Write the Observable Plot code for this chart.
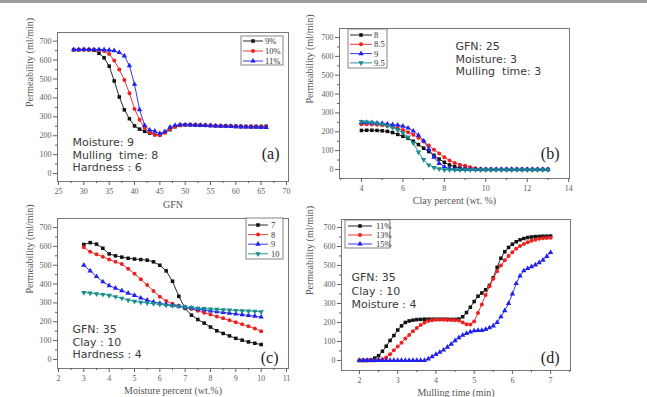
<!DOCTYPE html>
<html>
<head>
<meta charset="utf-8">
<script src="https://cdn.jsdelivr.net/npm/d3@7"></script>
<script src="https://cdn.jsdelivr.net/npm/@observablehq/plot@0.6"></script>
<style>
  body { margin: 0; background: #fff; }
  #fig { position: relative; width: 647px; height: 397px; overflow: hidden; background: #fff; }
  #topbar { position: absolute; left: 0; top: 0; width: 647px; height: 3px; background: #9c9c9c; }
  .panel { position: absolute; }
  .panel svg { overflow: visible; background: transparent; }
</style>
</head>
<body>
<div id="fig"><div id="topbar"></div></div>
<script>
// ---- (a) permeability vs GFN, by moisture ----
const gfn = [28,29,30,31,32,33,34,35,36,37,38,39,40,41,42,43,44,45,46,47,48,49,50,51,52,53,54,55,56,57,58,59,60,61,62,63,64,65,66];
const permA9  = [655,655,656,655,652,636,612,568,490,405,337,290,252,235,223,214,206,205,218,232,248,255,258,258,257,256,255,254,253,252,252,251,250,250,249,249,249,249,250];
const permA10 = [655,655,655,655,655,654,648,632,598,550,495,425,342,285,242,218,205,203,216,235,248,255,258,258,257,256,255,254,253,252,251,250,249,248,248,247,247,247,247];
const permA11 = [655,656,656,656,656,656,655,653,650,640,622,570,472,338,255,230,224,212,222,245,255,258,258,257,256,255,254,253,252,251,250,249,248,247,246,245,245,244,244];
const labelsA = ["9%", "10%", "11%"];

// ---- (b) permeability vs clay percent, by moisture ----
const clay = [4,4.25,4.5,4.75,5,5.25,5.5,5.75,6,6.25,6.5,6.75,7,7.25,7.5,7.75,8,8.25,8.5,8.75,9,9.25,9.5,9.75,10,10.25,10.5,10.75,11,11.25,11.5,11.75,12,12.25,12.5,12.75,13];
const permB8  = [207,208,208,207,205,202,196,186,176,165,150,132,113,95,75,55,38,24,14,8,4,2,1,0,0,0,0,0,0,0,0,0,0,0,0,0,0];
const permB85 = [240,240,239,237,234,230,225,218,209,198,184,168,148,127,105,85,65,47,34,25,19,12,6,2,0,0,0,0,0,0,0,0,0,0,0,0,0];
const permB9  = [250,249,248,246,244,241,238,235,230,220,204,182,152,108,65,32,14,5,1,0,0,0,0,0,0,0,0,0,0,0,0,0,0,0,0,0,0];
const permB95 = [254,252,249,245,240,232,222,210,195,172,140,92,52,24,10,3,-2,-2,-2,-2,-2,-2,-2,-2,-2,-2,-2,-2,-2,-2,-2,-2,-2,-2,-2,-2,-2];
const labelsB = ["8", "8.5", "9", "9.5"];

// ---- (c) permeability vs moisture percent, by clay ----
const moisture = [3,3.25,3.5,3.75,4,4.25,4.5,4.75,5,5.25,5.5,5.75,6,6.25,6.5,6.75,7,7.25,7.5,7.75,8,8.25,8.5,8.75,9,9.25,9.5,9.75,10];
const permC7  = [610,620,612,590,560,550,543,537,533,530,527,518,500,470,415,335,271,235,212,193,172,152,138,125,112,102,93,86,79];
const permC8  = [595,572,558,545,530,518,506,482,455,425,395,363,333,310,295,285,276,268,258,248,238,228,218,208,198,187,176,164,150];
const permC9  = [500,470,440,412,392,378,365,352,340,326,315,305,298,292,287,282,277,272,267,263,258,254,250,246,242,238,234,230,225];
const permC10 = [355,352,348,345,340,333,325,315,308,303,300,296,292,288,285,282,278,275,272,270,268,266,264,262,260,258,257,255,253];
const labelsC = ["7", "8", "9", "10"];

// ---- (d) permeability vs mulling time, by clay ----
const mulling = [2,2.1,2.2,2.3,2.4,2.5,2.6,2.7,2.8,2.9,3,3.1,3.2,3.3,3.4,3.5,3.6,3.7,3.8,3.9,4,4.1,4.2,4.3,4.4,4.5,4.6,4.7,4.8,4.9,5,5.1,5.2,5.3,5.4,5.5,5.6,5.7,5.8,5.9,6,6.1,6.2,6.3,6.4,6.5,6.6,6.7,6.8,6.9,7];
const permD11 = [0,0,0,2,12,25,48,75,105,131,160,182,200,208,212,215,216,217,217,217,217,217,217,217,216,216,218,230,252,280,310,338,355,372,395,435,490,538,572,595,612,625,635,642,647,650,652,653,654,654,655];
const permD13 = [0,0,0,0,0,2,6,16,32,53,73,93,115,134,154,171,186,198,207,211,214,214,214,213,213,212,210,200,191,189,205,250,295,345,390,430,470,500,527,550,570,588,602,613,622,630,636,640,643,645,646];
const permD15 = [0,0,0,0,0,0,0,0,0,0,0,0,0,0,0,0,0,0,8,20,32,43,55,70,86,104,120,133,142,150,156,158,158,163,172,182,200,230,262,300,350,405,445,472,484,494,503,515,528,548,568];
const labelsD = ["11%", "13%", "15%"];

const yTicks = [0,100,200,300,400,500,600,700];
const yMinorTicks = [50,150,250,350,450,550,650];
const yLabel = "Permeability (ml/min)";

const SERIF = "Liberation Serif, DejaVu Serif, serif";
const SANS = "DejaVu Sans, Liberation Sans, sans-serif";

// downward-pointing triangle, mirror of d3.symbolTriangle
const triangleDown = {
  draw(context, size) {
    const y = -Math.sqrt(size / (Math.sqrt(3) * 3));
    context.moveTo(0, -y * 2);
    context.lineTo(-Math.sqrt(3) * y, y);
    context.lineTo(Math.sqrt(3) * y, y);
    context.closePath();
  }
};

const look = {
  black: {color: "#111111", symbol: d3.symbolSquare},
  red:   {color: "#ee2020", symbol: d3.symbolCircle},
  blue:  {color: "#2020ee", symbol: d3.symbolTriangle},
  teal:  {color: "#168c8c", symbol: triangleDown}
};
const R = 2;
const plain = d => String(d);

function drawPanel(p) {
  const marks = [
    Plot.frame({stroke: "#777", strokeWidth: 1}),
    Plot.axisY({ticks: yMinorTicks, tickSize: 2, tickFormat: () => "", label: null}),
    Plot.axisY({ticks: yTicks, tickSize: 4, tickPadding: 2, tickFormat: plain, label: null,
      fontFamily: SERIF, fontSize: 8}),
    Plot.axisX({ticks: p.xMinor, tickSize: 2, tickFormat: () => "", label: null}),
    Plot.axisX({ticks: p.xTicks, tickSize: 4, tickPadding: 3, tickFormat: plain, label: null,
      fontFamily: SERIF, fontSize: 8}),
    Plot.text([p.xLabel], {text: d => d, frameAnchor: "bottom", dy: p.xLabelDy, lineAnchor: "middle",
      fontFamily: SERIF, fontSize: 10, fill: "#555"}),
    Plot.text([yLabel], {text: d => d, frameAnchor: "left", dx: -p.yLabelDx, rotate: -90, lineAnchor: "middle",
      fontFamily: SERIF, fontSize: 10, fill: "#555"}),
    Plot.text([p.note], {text: d => d, frameAnchor: "top-left", dx: p.noteDx, dy: p.noteDy, textAnchor: "start",
      lineAnchor: "top", lineHeight: p.noteLH, fontFamily: SANS, fontSize: 11, fill: "#3a3a3a"}),
    Plot.text([p.tag], {text: d => d, frameAnchor: "top-right", dx: p.tagDx, dy: p.tagDy, textAnchor: "end",
      lineAnchor: "middle", fontFamily: SERIF, fontSize: 16, fill: "#222"})
  ];
  p.series.forEach(s => {
    const rows = p.x.map((xv, i) => ({x: xv, y: s.values[i]}));
    marks.push(Plot.line(rows, {x: "x", y: "y", stroke: look[s.look].color, strokeWidth: 0.9}));
    marks.push(Plot.dot(rows, {x: "x", y: "y", r: R, symbol: look[s.look].symbol, fill: look[s.look].color, stroke: "none"}));
  });
  const chart = Plot.plot({
    width: p.w, height: p.h,
    marginTop: p.m[0], marginRight: p.m[1], marginBottom: p.m[2], marginLeft: p.m[3],
    x: {domain: p.xDomain},
    y: {domain: p.yDomain},
    style: {background: "transparent", overflow: "visible", fontFamily: SERIF, fontSize: "8px", color: "#606060"},
    marks
  });

  // legend box with line + marker swatches
  const lg = p.legend;
  const g = d3.select(chart).append("g").attr("text-anchor", "start");
  g.append("rect").attr("x", lg.x).attr("y", lg.y).attr("width", lg.w).attr("height", lg.h)
    .attr("fill", "white").attr("stroke", "#666").attr("stroke-width", 0.8);
  p.series.forEach((s, i) => {
    const cy = lg.y + lg.first + i * lg.gap;
    const c = look[s.look].color;
    g.append("line").attr("x1", lg.lx0).attr("x2", lg.lx1).attr("y1", cy).attr("y2", cy)
      .attr("stroke", c).attr("stroke-width", 0.9);
    g.append("path").attr("d", d3.symbol(look[s.look].symbol, Math.PI * R * R)())
      .attr("transform", `translate(${(lg.lx0 + lg.lx1) / 2},${cy})`).attr("fill", c);
    g.append("text").attr("x", lg.tx).attr("y", cy).attr("dy", "0.35em").attr("text-anchor", "start")
      .attr("font-family", SERIF).attr("font-size", 8.5).attr("fill", "#333").text(s.label);
  });

  const holder = document.createElement("div");
  holder.className = "panel";
  holder.style.left = p.left + "px";
  holder.style.top = p.top + "px";
  holder.appendChild(chart);
  document.getElementById("fig").appendChild(holder);
}

drawPanel({
  left: 0, top: 0, w: 320, h: 210, m: [32, 32, 29, 57],
  x: gfn, xDomain: [24.8, 70.4], yDomain: [-42, 746],
  xTicks: [25,30,35,40,45,50,55,60,65,70], xMinor: [27.5,32.5,37.5,42.5,47.5,52.5,57.5,62.5,67.5],
  xLabel: "GFN", xLabelDy: 23, yLabelDx: 28,
  note: "Moisture: 9\nMulling  time: 8\nHardness : 6", noteDx: 15, noteDy: 105, noteLH: 1.14,
  tag: "(a)", tagDx: -9, tagDy: 121,
  series: [
    {label: labelsA[0], values: permA9, look: "black"},
    {label: labelsA[1], values: permA10, look: "red"},
    {label: labelsA[2], values: permA11, look: "blue"}
  ],
  legend: {x: 241, y: 36, w: 42, h: 29, first: 5, gap: 10, lx0: 243, lx1: 263, tx: 265}
});

drawPanel({
  left: 320, top: 0, w: 327, h: 210, m: [28, 78, 32, 19],
  x: clay, xDomain: [2.94, 14.04], yDomain: [-48, 748],
  xTicks: [4,6,8,10,12,14], xMinor: [3,5,7,9,11,13],
  xLabel: "Clay percent (wt. %)", xLabelDy: 22, yLabelDx: 30,
  note: "GFN: 25\nMoisture: 3\nMulling  time: 3", noteDx: 116, noteDy: 13, noteLH: 1.14,
  tag: "(b)", tagDx: -10, tagDy: 125,
  series: [
    {label: labelsB[0], values: permB8, look: "black"},
    {label: labelsB[1], values: permB85, look: "red"},
    {label: labelsB[2], values: permB9, look: "blue"},
    {label: labelsB[3], values: permB95, look: "teal"}
  ],
  legend: {x: 28, y: 29, w: 39, h: 39, first: 6, gap: 9.3, lx0: 30, lx1: 52, tx: 54}
});

drawPanel({
  left: 0, top: 195, w: 320, h: 202, m: [23, 32, 29, 57],
  x: moisture, xDomain: [1.96, 11.08], yDomain: [-48, 748],
  xTicks: [2,3,4,5,6,7,8,9,10,11], xMinor: [2.5,3.5,4.5,5.5,6.5,7.5,8.5,9.5,10.5],
  xLabel: "Moisture percent (wt.%)", xLabelDy: 22, yLabelDx: 28,
  note: "GFN: 35\nClay : 10\nHardness : 4", noteDx: 15, noteDy: 106, noteLH: 1.14,
  tag: "(c)", tagDx: -10, tagDy: 139,
  series: [
    {label: labelsC[0], values: permC7, look: "black"},
    {label: labelsC[1], values: permC8, look: "red"},
    {label: labelsC[2], values: permC9, look: "blue"},
    {label: labelsC[3], values: permC10, look: "teal"}
  ],
  legend: {x: 246, y: 23, w: 37, h: 41, first: 7, gap: 9.6, lx0: 248, lx1: 268, tx: 271}
});

drawPanel({
  left: 320, top: 195, w: 327, h: 202, m: [24, 77, 27, 21],
  x: mulling, xDomain: [1.53, 7.52], yDomain: [-53, 742],
  xTicks: [2,3,4,5,6,7], xMinor: [2.5,3.5,4.5,5.5,6.5,7.5],
  xLabel: "Mulling time (min)", xLabelDy: 22, yLabelDx: 32,
  note: "GFN: 35\nClay : 10\nMoisture : 4", noteDx: 10, noteDy: 52, noteLH: 1.23,
  tag: "(d)", tagDx: -11, tagDy: 138,
  series: [
    {label: labelsD[0], values: permD11, look: "black"},
    {label: labelsD[1], values: permD13, look: "red"},
    {label: labelsD[2], values: permD15, look: "blue"}
  ],
  legend: {x: 25, y: 25, w: 45, h: 28, first: 6, gap: 9, lx0: 28, lx1: 52, tx: 56}
});
</script>
</body>
</html>
